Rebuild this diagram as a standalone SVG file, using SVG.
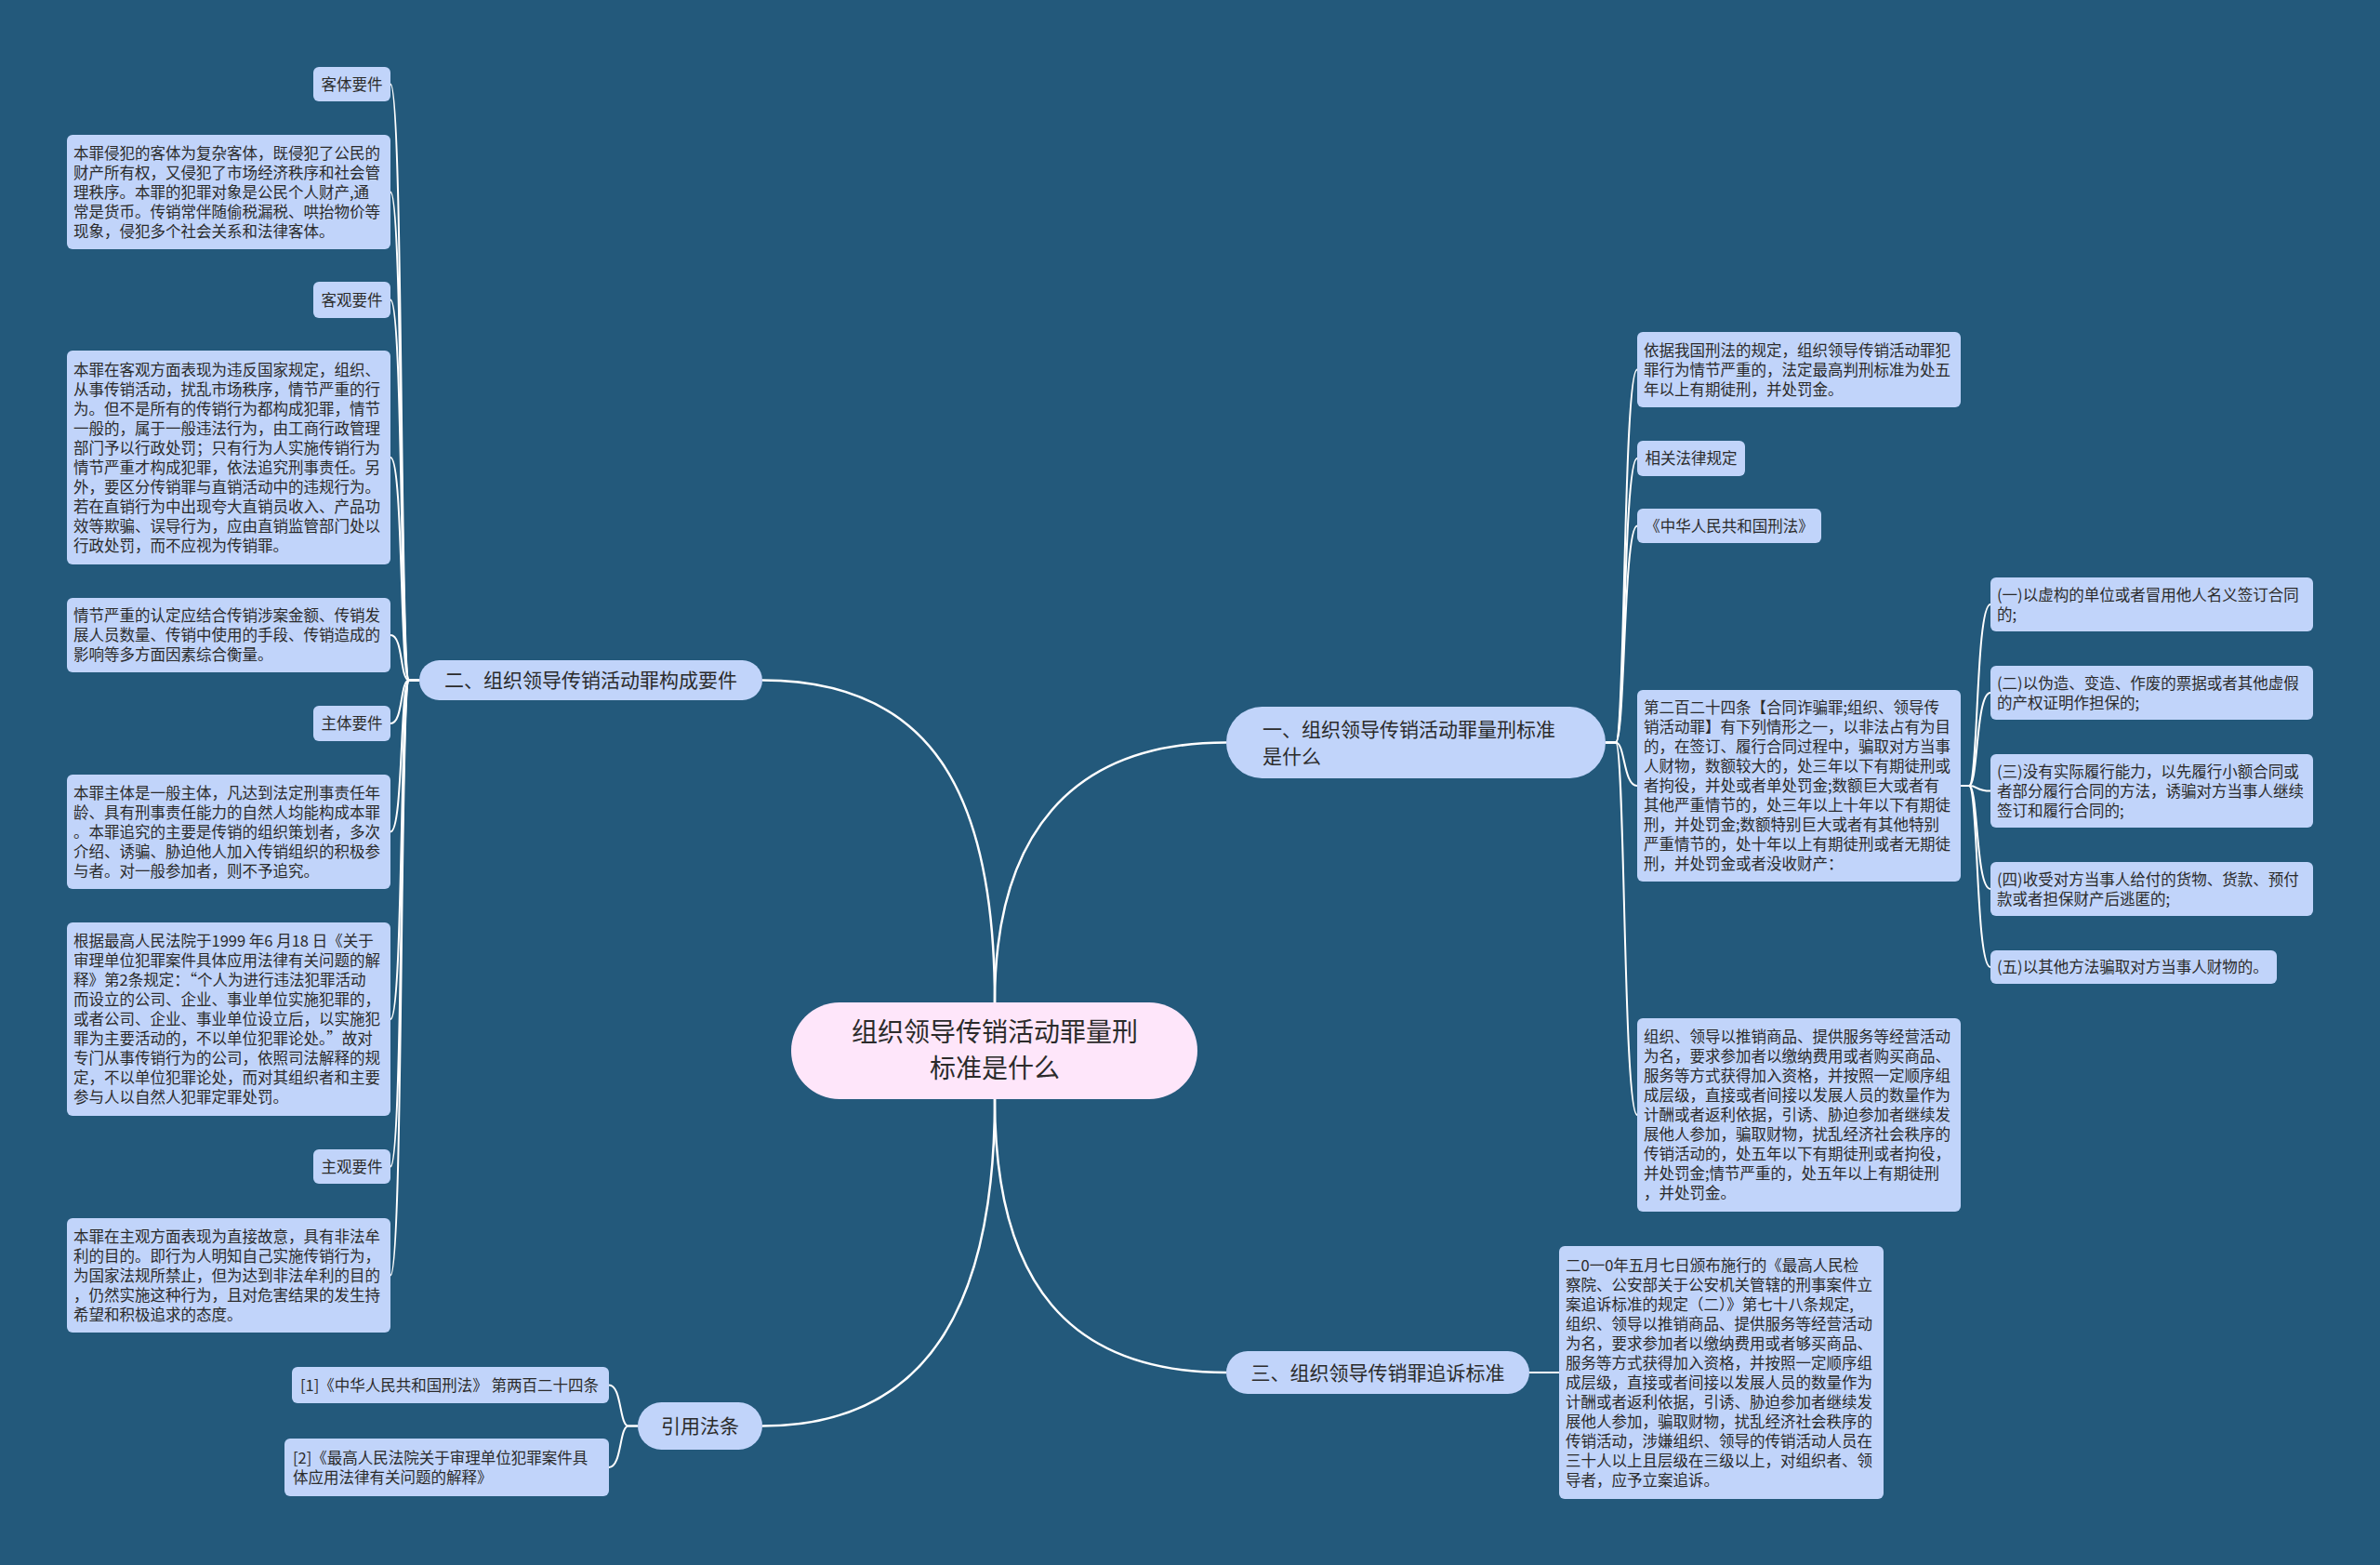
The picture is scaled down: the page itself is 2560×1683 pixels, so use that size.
<svg xmlns="http://www.w3.org/2000/svg" width="2560" height="1683" viewBox="0 0 2560 1683">
<style>
text{font-family:"Noto Sans CJK SC","Noto Sans",sans-serif;fill:#2b2b2b}
.leaf{fill:#c1d4fa}
.t{font-size:16.5px}
.m{font-size:21px}
.c{font-size:28px}
.mid{text-anchor:middle}
.main{fill:#c1d4fa}
.root{fill:#fee6fa}
.conn path{fill:none;stroke:#ffffff;stroke-width:2}
.conn .b{stroke-width:2.5}
</style>
<rect width="2560" height="1683" fill="#23597b"/>
<g class="conn" id="connectors">
<path class="b" d="M1070,1078 C1070,850 1000,731.5 820,731.5"/>
<path class="b" d="M1070,1078 C1070,900 1150,798.5 1319,798.5"/>
<path class="b" d="M1070,1182 C1070,1380 1150,1476 1319,1476"/>
<path class="b" d="M1070,1182 C1070,1400 1000,1533.5 820,1533.5"/>
<path d="M451,731.5 L440,731.5 C430,731.5 434,90.5 420,90.5"/>
<path d="M451,731.5 L440,731.5 C430,731.5 434,206.5 420,206.5"/>
<path d="M451,731.5 L440,731.5 C430,731.5 434,322.5 420,322.5"/>
<path d="M451,731.5 L440,731.5 C430,731.5 434,492 420,492"/>
<path d="M451,731.5 L440,731.5 C430,731.5 434,683 420,683"/>
<path d="M451,731.5 L440,731.5 C430,731.5 434,778 420,778"/>
<path d="M451,731.5 L440,731.5 C430,731.5 434,894.5 420,894.5"/>
<path d="M451,731.5 L440,731.5 C430,731.5 434,1096 420,1096"/>
<path d="M451,731.5 L440,731.5 C430,731.5 434,1254.5 420,1254.5"/>
<path d="M451,731.5 L440,731.5 C430,731.5 434,1371.5 420,1371.5"/>
<path d="M1727,798.5 L1738,798.5 C1748,798.5 1746,397.5 1761,397.5"/>
<path d="M1727,798.5 L1738,798.5 C1748,798.5 1746,493 1761,493"/>
<path d="M1727,798.5 L1738,798.5 C1748,798.5 1746,565.5 1761,565.5"/>
<path d="M1727,798.5 L1738,798.5 C1748,798.5 1746,845 1761,845"/>
<path d="M1727,798.5 L1738,798.5 C1748,798.5 1746,1199 1761,1199"/>
<path d="M2109,845 L2118,845 C2128,845 2125,650 2141,650"/>
<path d="M2109,845 L2118,845 C2128,845 2125,745 2141,745"/>
<path d="M2109,845 L2118,845 C2128,845 2125,850.5 2141,850.5"/>
<path d="M2109,845 L2118,845 C2128,845 2125,956 2141,956"/>
<path d="M2109,845 L2118,845 C2128,845 2125,1040 2141,1040"/>
<path d="M1645,1476 L1677,1476"/>
<path d="M686,1533.5 L676,1533.5 C666,1533.5 669,1489.5 655,1489.5"/>
<path d="M686,1533.5 L676,1533.5 C666,1533.5 669,1578 655,1578"/>
</g>
<g id="root">
<rect class="root" x="851" y="1078" width="437" height="104" rx="52"/>
<text class="c mid" x="1070" y="1120">组织领导传销活动罪量刑</text>
<text class="c mid" x="1070" y="1159">标准是什么</text>
</g>
<g id="n2">
<rect class="main" x="451" y="710" width="369" height="43" rx="21.5"/>
<text class="m mid" x="635.5" y="738.5">二、组织领导传销活动罪构成要件</text>
</g>
<g id="n1">
<rect class="main" x="1319" y="760" width="408" height="77" rx="38.5"/>
<text class="m" x="1358" y="791.5">一、组织领导传销活动罪量刑标准</text>
<text class="m" x="1358" y="820.5">是什么</text>
</g>
<g id="n3">
<rect class="main" x="1319" y="1453" width="326" height="46" rx="23"/>
<text class="m mid" x="1482" y="1483.5">三、组织领导传销罪追诉标准</text>
</g>
<g id="n4">
<rect class="main" x="686" y="1508" width="134" height="51" rx="25.5"/>
<text class="m mid" x="753" y="1541">引用法条</text>
</g>
<g id="l1"><rect class="leaf" x="337" y="72" width="83" height="37" rx="6"/><text class="t mid" x="378.5" y="96.5">客体要件</text></g>
<g id="l2"><rect class="leaf" x="72" y="145" width="348" height="123" rx="6"/>
<text class="t" x="79" y="170.5">本罪侵犯的客体为复杂客体，既侵犯了公民的</text>
<text class="t" x="79" y="191.5">财产所有权，又侵犯了市场经济秩序和社会管</text>
<text class="t" x="79" y="212.5">理秩序。本罪的犯罪对象是公民个人财产,通</text>
<text class="t" x="79" y="233.5">常是货币。传销常伴随偷税漏税、哄抬物价等</text>
<text class="t" x="79" y="254.5">现象，侵犯多个社会关系和法律客体。</text></g>
<g id="l3"><rect class="leaf" x="337" y="303" width="83" height="39" rx="6"/><text class="t mid" x="378.5" y="328.5">客观要件</text></g>
<g id="l4"><rect class="leaf" x="72" y="377" width="348" height="230" rx="6"/>
<text class="t" x="79" y="403.5">本罪在客观方面表现为违反国家规定，组织、</text>
<text class="t" x="79" y="424.5">从事传销活动，扰乱市场秩序，情节严重的行</text>
<text class="t" x="79" y="445.5">为。但不是所有的传销行为都构成犯罪，情节</text>
<text class="t" x="79" y="466.5">一般的，属于一般违法行为，由工商行政管理</text>
<text class="t" x="79" y="487.5">部门予以行政处罚；只有行为人实施传销行为</text>
<text class="t" x="79" y="508.5">情节严重才构成犯罪，依法追究刑事责任。另</text>
<text class="t" x="79" y="529.5">外，要区分传销罪与直销活动中的违规行为。</text>
<text class="t" x="79" y="550.5">若在直销行为中出现夸大直销员收入、产品功</text>
<text class="t" x="79" y="571.5">效等欺骗、误导行为，应由直销监管部门处以</text>
<text class="t" x="79" y="592.5">行政处罚，而不应视为传销罪。</text></g>
<g id="l5"><rect class="leaf" x="72" y="643" width="348" height="80" rx="6"/>
<text class="t" x="79" y="668">情节严重的认定应结合传销涉案金额、传销发</text>
<text class="t" x="79" y="689">展人员数量、传销中使用的手段、传销造成的</text>
<text class="t" x="79" y="710">影响等多方面因素综合衡量。</text></g>
<g id="l6"><rect class="leaf" x="337" y="759" width="83" height="38" rx="6"/><text class="t mid" x="378.5" y="784">主体要件</text></g>
<g id="l7"><rect class="leaf" x="72" y="833" width="348" height="123" rx="6"/>
<text class="t" x="79" y="858.5">本罪主体是一般主体，凡达到法定刑事责任年</text>
<text class="t" x="79" y="879.5">龄、具有刑事责任能力的自然人均能构成本罪</text>
<text class="t" x="79" y="900.5">。本罪追究的主要是传销的组织策划者，多次</text>
<text class="t" x="79" y="921.5">介绍、诱骗、胁迫他人加入传销组织的积极参</text>
<text class="t" x="79" y="942.5">与者。对一般参加者，则不予追究。</text></g>
<g id="l8"><rect class="leaf" x="72" y="992" width="348" height="208" rx="6"/>
<text class="t" x="79" y="1018">根据最高人民法院于1999 年6 月18 日《关于</text>
<text class="t" x="79" y="1039">审理单位犯罪案件具体应用法律有关问题的解</text>
<text class="t" x="79" y="1060">释》第2条规定：“个人为进行违法犯罪活动</text>
<text class="t" x="79" y="1081">而设立的公司、企业、事业单位实施犯罪的，</text>
<text class="t" x="79" y="1102">或者公司、企业、事业单位设立后，以实施犯</text>
<text class="t" x="79" y="1123">罪为主要活动的，不以单位犯罪论处。”故对</text>
<text class="t" x="79" y="1144">专门从事传销行为的公司，依照司法解释的规</text>
<text class="t" x="79" y="1165">定，不以单位犯罪论处，而对其组织者和主要</text>
<text class="t" x="79" y="1186">参与人以自然人犯罪定罪处罚。</text></g>
<g id="l9"><rect class="leaf" x="337" y="1236" width="83" height="37" rx="6"/><text class="t mid" x="378.5" y="1260.5">主观要件</text></g>
<g id="l10"><rect class="leaf" x="72" y="1310" width="348" height="123" rx="6"/>
<text class="t" x="79" y="1335.5">本罪在主观方面表现为直接故意，具有非法牟</text>
<text class="t" x="79" y="1356.5">利的目的。即行为人明知自己实施传销行为，</text>
<text class="t" x="79" y="1377.5">为国家法规所禁止，但为达到非法牟利的目的</text>
<text class="t" x="79" y="1398.5">，仍然实施这种行为，且对危害结果的发生持</text>
<text class="t" x="79" y="1419.5">希望和积极追求的态度。</text></g>
<g id="c1"><rect class="leaf" x="314" y="1470" width="341" height="39" rx="6"/>
<text class="t" x="323" y="1495.5">[1]《中华人民共和国刑法》 第两百二十四条</text></g>
<g id="c2"><rect class="leaf" x="306" y="1547" width="349" height="62" rx="6"/>
<text class="t" x="315" y="1573.5">[2]《最高人民法院关于审理单位犯罪案件具</text>
<text class="t" x="315" y="1594.5">体应用法律有关问题的解释》</text></g>
<g id="r1"><rect class="leaf" x="1761" y="357" width="348" height="81" rx="6"/>
<text class="t" x="1768" y="382.5">依据我国刑法的规定，组织领导传销活动罪犯</text>
<text class="t" x="1768" y="403.5">罪行为情节严重的，法定最高判刑标准为处五</text>
<text class="t" x="1768" y="424.5">年以上有期徒刑，并处罚金。</text></g>
<g id="r2"><rect class="leaf" x="1761" y="474" width="116" height="38" rx="6"/><text class="t mid" x="1819" y="499">相关法律规定</text></g>
<g id="r3"><rect class="leaf" x="1761" y="547" width="198" height="37" rx="6"/><text class="t mid" x="1860" y="571.5">《中华人民共和国刑法》</text></g>
<g id="r4"><rect class="leaf" x="1761" y="742" width="348" height="206" rx="6"/>
<text class="t" x="1768" y="767">第二百二十四条【合同诈骗罪;组织、领导传</text>
<text class="t" x="1768" y="788">销活动罪】有下列情形之一，以非法占有为目</text>
<text class="t" x="1768" y="809">的，在签订、履行合同过程中，骗取对方当事</text>
<text class="t" x="1768" y="830">人财物，数额较大的，处三年以下有期徒刑或</text>
<text class="t" x="1768" y="851">者拘役，并处或者单处罚金;数额巨大或者有</text>
<text class="t" x="1768" y="872">其他严重情节的，处三年以上十年以下有期徒</text>
<text class="t" x="1768" y="893">刑，并处罚金;数额特别巨大或者有其他特别</text>
<text class="t" x="1768" y="914">严重情节的，处十年以上有期徒刑或者无期徒</text>
<text class="t" x="1768" y="935">刑，并处罚金或者没收财产：</text></g>
<g id="r5"><rect class="leaf" x="1761" y="1095" width="348" height="208" rx="6"/>
<text class="t" x="1768" y="1121">组织、领导以推销商品、提供服务等经营活动</text>
<text class="t" x="1768" y="1142">为名，要求参加者以缴纳费用或者购买商品、</text>
<text class="t" x="1768" y="1163">服务等方式获得加入资格，并按照一定顺序组</text>
<text class="t" x="1768" y="1184">成层级，直接或者间接以发展人员的数量作为</text>
<text class="t" x="1768" y="1205">计酬或者返利依据，引诱、胁迫参加者继续发</text>
<text class="t" x="1768" y="1226">展他人参加，骗取财物，扰乱经济社会秩序的</text>
<text class="t" x="1768" y="1247">传销活动的，处五年以下有期徒刑或者拘役，</text>
<text class="t" x="1768" y="1268">并处罚金;情节严重的，处五年以上有期徒刑</text>
<text class="t" x="1768" y="1289">，并处罚金。</text></g>
<g id="s1"><rect class="leaf" x="2141" y="621" width="347" height="58" rx="6"/>
<text class="t" x="2148" y="645.5">(一)以虚构的单位或者冒用他人名义签订合同</text>
<text class="t" x="2148" y="666.5">的;</text></g>
<g id="s2"><rect class="leaf" x="2141" y="716" width="347" height="58" rx="6"/>
<text class="t" x="2148" y="740.5">(二)以伪造、变造、作废的票据或者其他虚假</text>
<text class="t" x="2148" y="761.5">的产权证明作担保的;</text></g>
<g id="s3"><rect class="leaf" x="2141" y="811" width="347" height="79" rx="6"/>
<text class="t" x="2148" y="835.5">(三)没有实际履行能力，以先履行小额合同或</text>
<text class="t" x="2148" y="856.5">者部分履行合同的方法，诱骗对方当事人继续</text>
<text class="t" x="2148" y="877.5">签订和履行合同的;</text></g>
<g id="s4"><rect class="leaf" x="2141" y="927" width="347" height="58" rx="6"/>
<text class="t" x="2148" y="951.5">(四)收受对方当事人给付的货物、货款、预付</text>
<text class="t" x="2148" y="972.5">款或者担保财产后逃匿的;</text></g>
<g id="s5"><rect class="leaf" x="2141" y="1022" width="308" height="36" rx="6"/>
<text class="t" x="2148" y="1046">(五)以其他方法骗取对方当事人财物的。</text></g>
<g id="r6"><rect class="leaf" x="1677" y="1340" width="349" height="272" rx="6"/>
<text class="t" x="1684" y="1366.5">二0一0年五月七日颁布施行的《最高人民检</text>
<text class="t" x="1684" y="1387.5">察院、公安部关于公安机关管辖的刑事案件立</text>
<text class="t" x="1684" y="1408.5">案追诉标准的规定（二）》第七十八条规定,</text>
<text class="t" x="1684" y="1429.5">组织、领导以推销商品、提供服务等经营活动</text>
<text class="t" x="1684" y="1450.5">为名，要求参加者以缴纳费用或者够买商品、</text>
<text class="t" x="1684" y="1471.5">服务等方式获得加入资格，并按照一定顺序组</text>
<text class="t" x="1684" y="1492.5">成层级，直接或者间接以发展人员的数量作为</text>
<text class="t" x="1684" y="1513.5">计酬或者返利依据，引诱、胁迫参加者继续发</text>
<text class="t" x="1684" y="1534.5">展他人参加，骗取财物，扰乱经济社会秩序的</text>
<text class="t" x="1684" y="1555.5">传销活动，涉嫌组织、领导的传销活动人员在</text>
<text class="t" x="1684" y="1576.5">三十人以上且层级在三级以上，对组织者、领</text>
<text class="t" x="1684" y="1597.5">导者，应予立案追诉。</text></g>
</svg>
